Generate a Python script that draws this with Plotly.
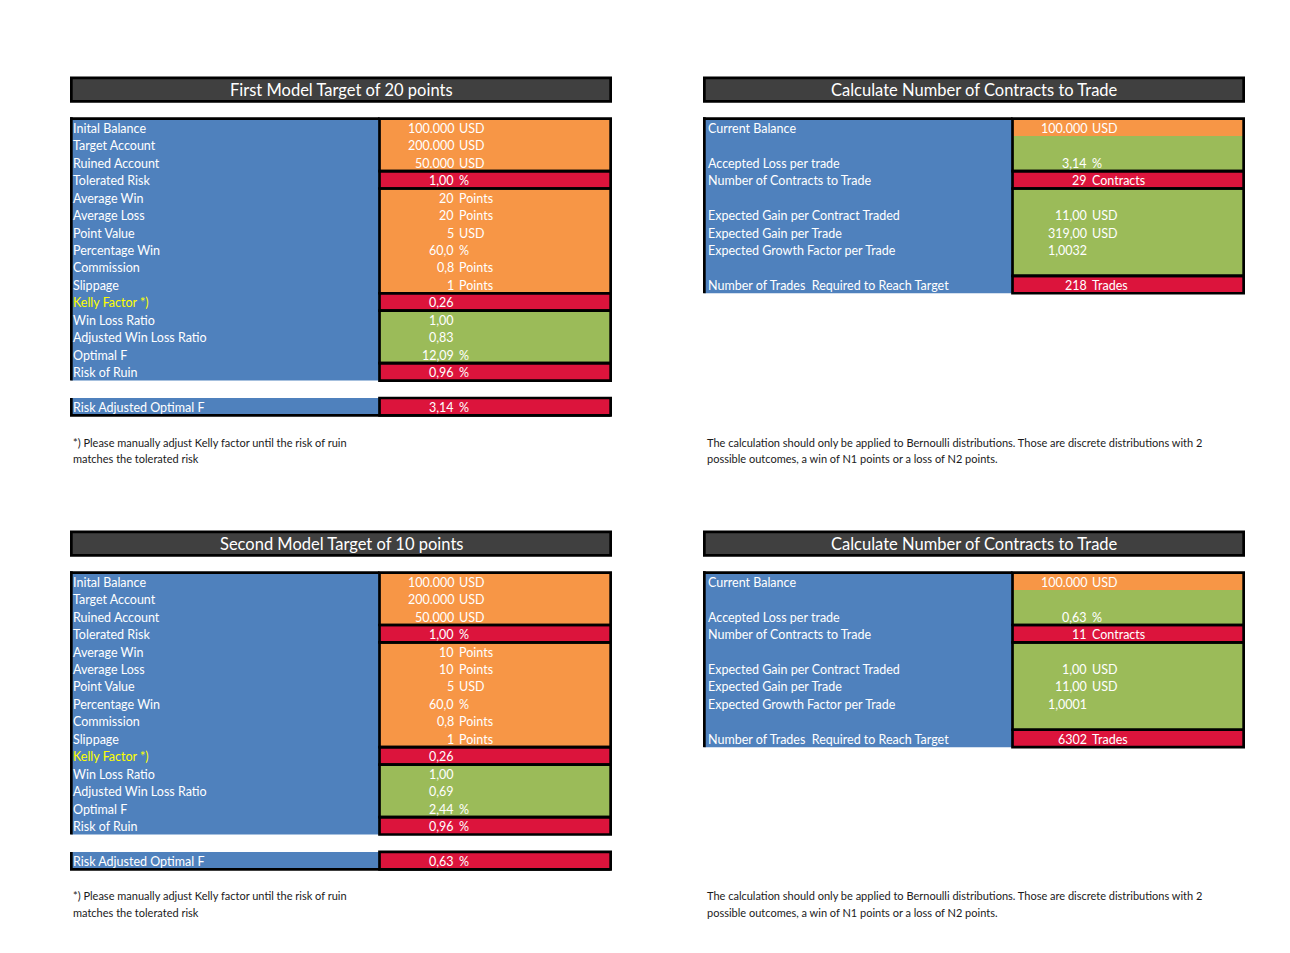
import plotly.graph_objects as go

# colours taken from the spreadsheet
BLUE = "#4F81BD"
ORANGE = "#F79646"
GREEN = "#9BBB59"
RED = "#DC143C"
DARK = "#404040"
FONT = "Lato"

# ---- model tables (left) ----
model_titles = ["First Model Target of 20 points", "Second Model Target of 10 points"]
model_labels = ["Inital Balance", "Target Account", "Ruined Account", "Tolerated Risk",
                "Average Win", "Average Loss", "Point Value", "Percentage Win",
                "Commission", "Slippage", "Kelly Factor *)", "Win Loss Ratio",
                "Adjusted Win Loss Ratio", "Optimal F", "Risk of Ruin"]
model_units = ["USD", "USD", "USD", "%", "Points", "Points", "USD", "%",
               "Points", "Points", "", "", "", "%", "%"]
model1_values = ["100.000", "200.000", "50.000", "1,00", "20", "20", "5", "60,0",
                 "0,8", "1", "0,26", "1,00", "0,83", "12,09", "0,96"]
model2_values = ["100.000", "200.000", "50.000", "1,00", "10", "10", "5", "60,0",
                 "0,8", "1", "0,26", "1,00", "0,69", "2,44", "0,96"]
model_colors = ["o", "o", "o", "r", "o", "o", "o", "o", "o", "o", "r", "g", "g", "g", "r"]
model_groups = [0, 3, 4, 10, 11, 14, 15]
adj_label = "Risk Adjusted Optimal F"
adj_values = ["3,14", "0,63"]
adj_unit = "%"
model_note = ["*) Please manually adjust Kelly factor until the risk of ruin",
              "matches the tolerated risk"]

# ---- contract tables (right) ----
calc_title = "Calculate Number of Contracts to Trade"
calc_labels = ["Current Balance", "", "Accepted Loss per trade", "Number of Contracts to Trade",
               "", "Expected Gain per Contract Traded", "Expected Gain per Trade",
               "Expected Growth Factor per Trade", "", "Number of Trades  Required to Reach Target"]
calc_units = ["USD", "", "%", "Contracts", "", "USD", "USD", "", "", "Trades"]
calc1_values = ["100.000", "", "3,14", "29", "", "11,00", "319,00", "1,0032", "", "218"]
calc2_values = ["100.000", "", "0,63", "11", "", "1,00", "11,00", "1,0001", "", "6302"]
calc_colors = ["o", "g", "g", "r", "g", "g", "g", "g", "g", "r"]
calc_groups = [0, 3, 4, 9, 10]
calc_note = ["The calculation should only be applied to Bernoulli distributions. Those are discrete distributions with 2",
             "possible outcomes, a win of N1 points or a loss of N2 points."]

COL = {"o": ORANGE, "g": GREEN, "r": RED}

# layout of one block (x in px, y in table rows)
W, H = 1290, 953
ROW_PX = 17.46
TOP_PX = 118.65
BW = 2.7                 # border width
PANEL_DX = 633           # right panel offset
PANEL_DY = 26            # lower panel offset (rows)
XL, XM, XR = 71.35, 379.5, 610.65
NUM_DX, UNIT_DX = 76, 77  # number right edge / unit left edge inside value column

fig = go.Figure()
shapes = []
annos = []


def rect(x0, x1, y0, y1, fill=None, line=False):
    shapes.append(dict(type="rect", xref="x", yref="y", x0=x0, x1=x1, y0=y0, y1=y1,
                       fillcolor=fill if fill else "rgba(0,0,0,0)",
                       line=dict(color="black", width=BW if line else 0)))


def hline(x0, x1, y):
    shapes.append(dict(type="line", xref="x", yref="y", x0=x0, x1=x1, y0=y, y1=y,
                       line=dict(color="black", width=BW)))


def vline(x, y0, y1):
    shapes.append(dict(type="line", xref="x", yref="y", x0=x, x1=x, y0=y0, y1=y1,
                       line=dict(color="black", width=BW)))


def text(x, y, s, anchor="left", size=12.5, color="white"):
    annos.append(dict(x=x, y=y, xref="x", yref="y", text=s, showarrow=False,
                      xanchor=anchor, yanchor="middle",
                      font=dict(family=FONT, size=size, color=color)))


def table(dx, dy, title, labels, values, units, colors, groups):
    n = len(labels)
    lx = XL + dx + (1.5 if dx else 0)
    # title bar
    rect(XL + dx, XR + dx, dy - 2.33, dy - 0.99, DARK, True)
    text((XL + XR) / 2 + dx, dy - 1.63, title, "center", 16.5)
    # label column
    rect(XL + dx, XM + dx, dy, dy + n, BLUE)
    vline(XL + dx, dy - 0.08, dy + n)
    hline(XL + dx - BW / 2, XM + dx, dy)
    # value column: fills, then group borders
    i = 0
    while i < n:
        j = i
        while j + 1 < n and colors[j + 1] == colors[i]:
            j += 1
        rect(XM + dx, XR + dx, dy + i, dy + j + 1, COL[colors[i]])
        i = j + 1
    for a, b in zip(groups[:-1], groups[1:]):
        rect(XM + dx, XR + dx, dy + a, dy + b, None, True)
    for k in range(n):
        yc = dy + k + 0.55
        if labels[k]:
            col = "#FFFF00" if labels[k].startswith("Kelly") else "white"
            text(lx, yc, labels[k], color=col)
        if values[k]:
            text(XM + dx + NUM_DX, yc, values[k], "right")
        if units[k]:
            text(XM + dx + UNIT_DX, yc, units[k])


for p in range(2):
    dy = p * PANEL_DY
    table(0, dy, model_titles[p], model_labels,
          [model1_values, model2_values][p], model_units, model_colors, model_groups)
    # risk adjusted optimal F row
    rect(XL, XM, dy + 16, dy + 17, BLUE)
    rect(XM, XR, dy + 16, dy + 17, RED, True)
    vline(XL, dy + 16, dy + 17)
    hline(XL - BW / 2, XR, dy + 17)
    text(XL, dy + 16.55, adj_label)
    text(XM + NUM_DX, dy + 16.55, adj_values[p], "right")
    text(XM + UNIT_DX, dy + 16.55, adj_unit)
    for k, s in enumerate(model_note):
        text(XL - 0.5, dy + 18.52 + 0.92 * k, s, size=11, color="#1a1a1a")

    table(PANEL_DX, dy, calc_title, calc_labels,
          [calc1_values, calc2_values][p], calc_units, calc_colors, calc_groups)
    for k, s in enumerate(calc_note):
        text(XL + PANEL_DX + 1, dy + 18.52 + 0.92 * k, s, size=11, color="#1a1a1a")

fig.update_layout(
    width=W, height=H,
    margin=dict(l=0, r=0, t=0, b=0),
    paper_bgcolor="white", plot_bgcolor="white",
    shapes=shapes, annotations=annos,
    xaxis=dict(range=[0, W], visible=False, fixedrange=True),
    yaxis=dict(range=[(H - TOP_PX) / ROW_PX, -TOP_PX / ROW_PX], visible=False, fixedrange=True),
    showlegend=False,
)

fig.write_html("out.html", config={"displayModeBar": False},
               post_script="document.body.style.margin='0';")
